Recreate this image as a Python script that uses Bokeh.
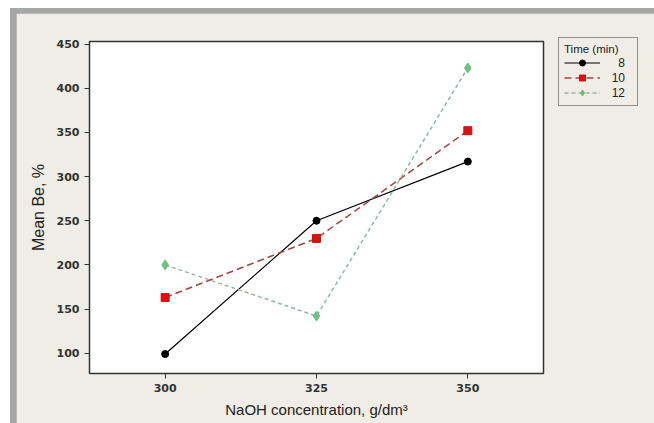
from bokeh.plotting import figure
from bokeh.layouts import column
from bokeh.models import Legend, LegendItem, FixedTicker, Range1d
from bokeh.embed import file_html
from bokeh.resources import INLINE

conc = [300, 325, 350]
be_8 = [99, 250, 317]
be_10 = [163, 230, 352]
be_12 = [200, 142, 423]
series_labels = ["8", "10", "12"]
x_ticks = [300, 325, 350]
y_ticks = [100, 150, 200, 250, 300, 350, 400, 450]

p = figure(width=632, height=410, frame_width=454, frame_height=332,
           min_border_left=73, min_border_right=105, min_border_top=28, min_border_bottom=50,
           output_backend="svg", toolbar_location=None,
           x_range=Range1d(287.5, 362.5), y_range=Range1d(77, 453))
p.background_fill_color = "white"
p.border_fill_color = "#efede5"
p.outline_line_color = "#333333"
p.outline_line_width = 1.5
p.grid.visible = False

l1 = p.line(conc, be_8, line_color="black", line_width=1.2)
m1 = p.scatter(conc, be_8, marker="circle", size=7, fill_color="black", line_color="black")
l2 = p.line(conc, be_10, line_color="#a04545", line_width=1.5, line_dash="7 4")
m2 = p.scatter(conc, be_10, marker="square", size=8, fill_color="#dd1111", line_color="#cc1111")
l3 = p.line(conc, be_12, line_color="#9cb3a4", line_width=1.5, line_dash="4 3")
m3 = p.scatter(conc, be_12, marker="diamond", size=10, fill_color="#6cc080", line_color="#6cc080")

for ax in (p.xaxis[0], p.yaxis[0]):
    ax.axis_line_color = None
    ax.major_tick_line_color = "#333333"
    ax.minor_tick_line_color = None
    ax.major_tick_out = 5
    ax.major_tick_in = 0
    ax.major_label_text_font = "DejaVu Sans"
    ax.major_label_text_font_style = "bold"
    ax.major_label_text_font_size = "11px"
    ax.major_label_text_color = "#333333"
    ax.axis_label_text_font = "Liberation Sans"
    ax.axis_label_text_font_style = "normal"
    ax.axis_label_text_color = "#222222"

p.xaxis.ticker = FixedTicker(ticks=x_ticks)
p.yaxis.ticker = FixedTicker(ticks=y_ticks)
p.xaxis.axis_label = "NaOH concentration, g/dm³"
p.xaxis.axis_label_text_font_size = "15px"
p.xaxis.axis_label_standoff = 6
p.yaxis.axis_label = "Mean Be, %"
p.yaxis.axis_label_text_font_size = "16px"
p.yaxis.axis_label_standoff = 7

def pad(s):
    return "\u2007" * (3 - len(s)) + s

legend = Legend(items=[
    LegendItem(label=pad(series_labels[0]), renderers=[l1, m1]),
    LegendItem(label=pad(series_labels[1]), renderers=[l2, m2]),
    LegendItem(label=pad(series_labels[2]), renderers=[l3, m3]),
], location=(15, 267))
legend.title = "Time (min)"
legend.title_text_font = "Liberation Sans"
legend.title_text_font_size = "11.5px"
legend.title_text_font_style = "normal"
legend.title_text_color = "#222222"
legend.title_standoff = 0
legend.label_text_font = "Liberation Sans"
legend.label_text_font_size = "12px"
legend.label_text_color = "#222222"
legend.label_height = 15
legend.label_width = 27
legend.label_standoff = 5
legend.glyph_height = 15
legend.glyph_width = 36
legend.spacing = 0
legend.padding = 5
legend.margin = 0
legend.border_line_color = "#333333"
legend.border_line_width = 1.5
legend.background_fill_color = "white"
legend.background_fill_alpha = 0.0
p.add_layout(legend, "right")

layout = column(p, styles={"background-color": "#a7a7a9", "padding": "5px 6px 0px 6px"})
layout.margin = (8, 0, 0, 10)

open("out.html", "w").write(file_html(layout, INLINE))
